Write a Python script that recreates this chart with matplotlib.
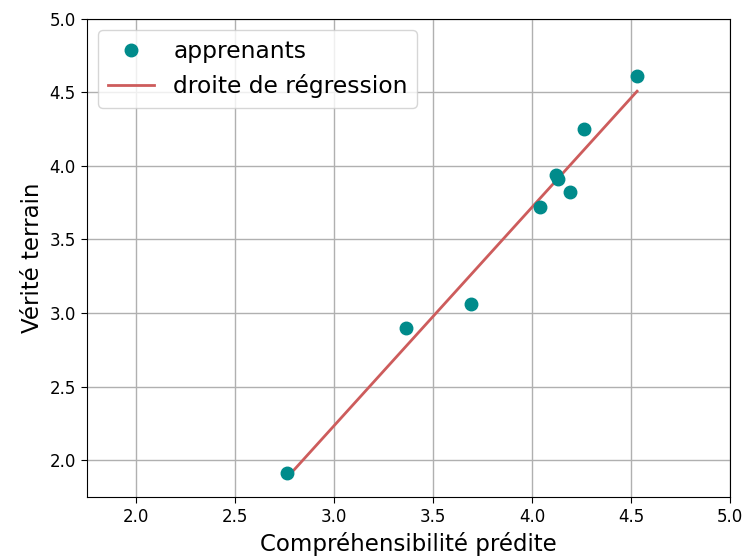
import numpy as np
import matplotlib
matplotlib.use("Agg")
import matplotlib.pyplot as plt

# predicted comprehensibility vs ground truth, one point per learner
predicted = [2.76, 3.36, 3.69, 4.04, 4.12, 4.13, 4.19, 4.26, 4.53]
truth = [1.91, 2.90, 3.06, 3.72, 3.94, 3.91, 3.82, 4.25, 4.61]

x = np.array(predicted)
y = np.array(truth)
slope, intercept = np.polyfit(x, y, 1)

fig = plt.figure(figsize=(7.42, 5.6), dpi=100)
ax = fig.add_axes([0.117, 0.1125, 0.867, 0.854])

ax.plot(x, y, "o", color="darkcyan", markersize=9, zorder=3, label="apprenants")
ax.plot(x, slope * x + intercept, color="indianred", lw=2, zorder=2,
        label="droite de régression")

ax.set_xlim(1.75, 5.0)
ax.set_ylim(1.75, 5.0)
ax.set_xticks(np.arange(2.0, 5.01, 0.5))
ax.set_yticks(np.arange(2.0, 5.01, 0.5))
ax.grid(True, color="#b0b0b0", lw=1)
ax.set_axisbelow(True)
ax.tick_params(labelsize=12, length=4.5)

ax.set_xlabel("Compréhensibilité prédite", fontsize=16.5)
ax.set_ylabel("Vérité terrain", fontsize=16.5)
ax.legend(loc="upper left", fontsize=16.8, handlelength=2.0)

fig.savefig("out.png", dpi=100)
